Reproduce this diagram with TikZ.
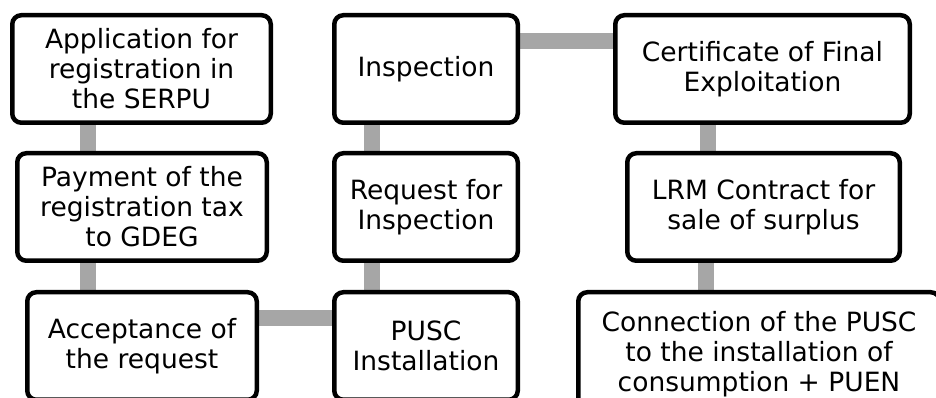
\documentclass[tikz,border=0pt]{standalone}
\usepackage{fontspec}
\setmainfont{DejaVu Sans}
\usepackage{xcolor}
\usetikzlibrary{backgrounds,calc}
\definecolor{linkgray}{HTML}{A6A6A6}
\tikzset{
  flow/box/.style={
    draw=black,
    fill=white,
    line width=4.5pt,
    rounded corners=9pt,
    minimum height=107.5pt,
    align=center,
    inner sep=0pt,
    font=\fontsize{26.5}{30}\selectfont
  },
  flow/link/.style={linkgray, line width=16pt}
}

\begin{document}
\begin{tikzpicture}[x=1pt, y=1pt]

\useasboundingbox (0,0) rectangle (936,398);
\clip (0,0) rectangle (936,398);

% --- first column
\node (appl) [flow/box, minimum width=258.5pt] at (141.5,329)
  {Application for\\registration in\\the SERPU};
\node (pay) [flow/box, minimum width=249.5pt] at (142,191)
  {Payment of the\\registration tax\\to GDEG};
\node (acc) [flow/box, minimum width=229.5pt] at (142,52)
  {Acceptance of\\the request};

% --- second column
\node (pusc) [flow/box, minimum width=183.5pt] at (426,52)
  {PUSC\\Installation};
\node (req) [flow/box, minimum width=183.5pt] at (426,191)
  {Request for\\Inspection};
\node (insp) [flow/box, minimum width=183.5pt] at (426,329)
  {Inspection};

% --- third column
\node (cert) [flow/box, minimum width=294.5pt] at (762.5,329)
  {Certificate of Final\\Exploitation};
\node (lrm) [flow/box, minimum width=272.5pt] at (763.5,191)
  {LRM Contract for\\sale of surplus};
\node (conn) [flow/box, minimum width=361.5pt, minimum height=123.5pt] at (759,44)
  {Connection of the PUSC\\to the installation of\\consumption + PUEN};

% --- links
\begin{scope}[on background layer]
\draw[flow/link] ([xshift=-54pt]appl.center) -- ([xshift=-54pt]appl.center |- pay.center);
\draw[flow/link] ([xshift=-54.5pt]pay.center) -- ([xshift=-54.5pt]pay.center |- acc.center);
\draw[flow/link] ([yshift=28pt]acc.center) -- ([yshift=28pt]acc.center -| pusc.center);
\draw[flow/link] ([xshift=-54.5pt]pusc.center) -- ([xshift=-54.5pt]pusc.center |- insp.center);
\draw[flow/link] ([yshift=28pt]insp.center) -- ([yshift=28pt]insp.center -| cert.center);
\draw[flow/link] ([xshift=-54.5pt]cert.center) -- ([xshift=-54.5pt]cert.center |- lrm.center);
\draw[flow/link] ([xshift=-57.5pt]lrm.center) -- ([xshift=-57.5pt]lrm.center |- conn.center);
\end{scope}

\end{tikzpicture}
\end{document}
